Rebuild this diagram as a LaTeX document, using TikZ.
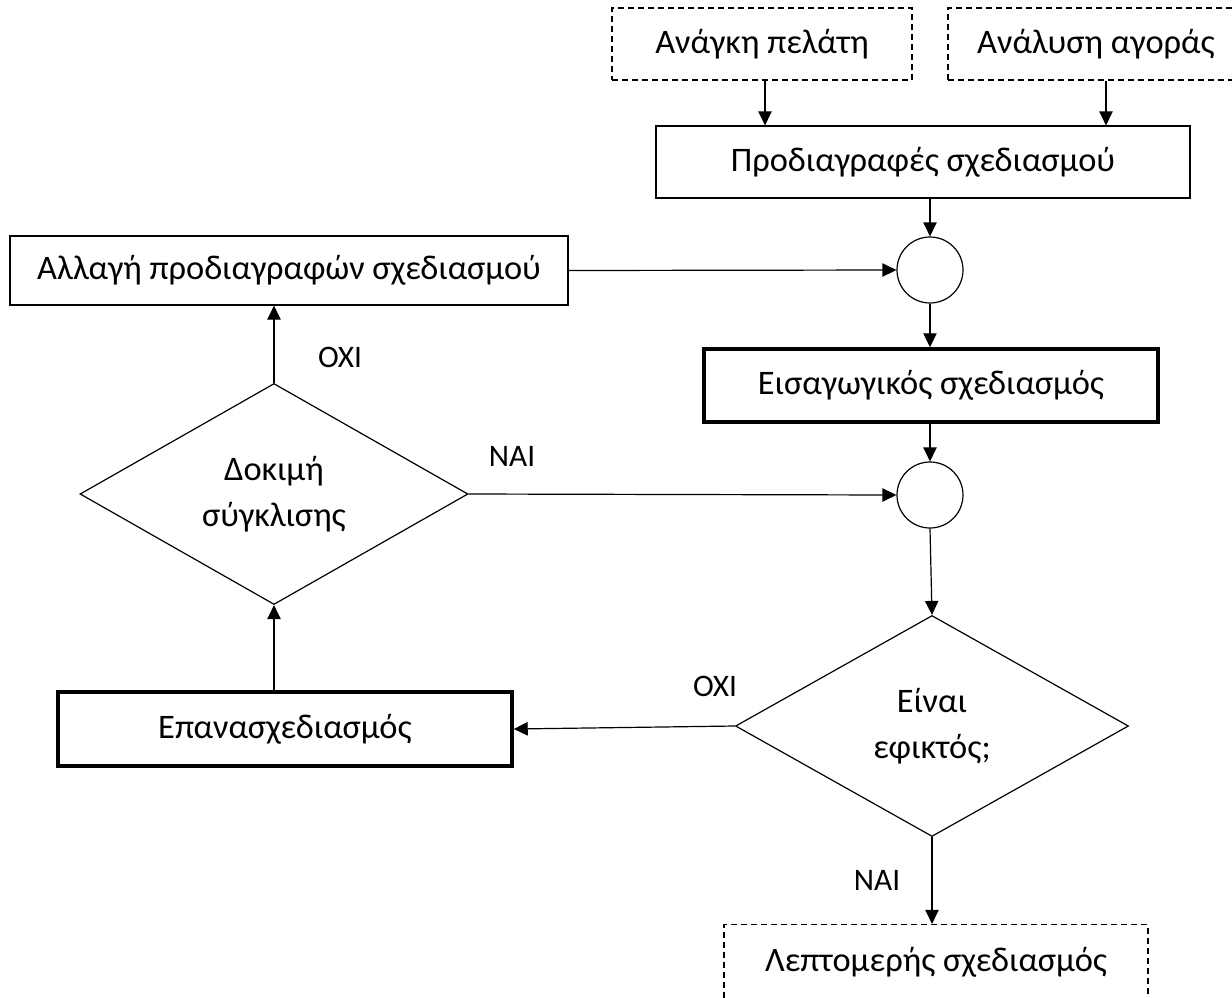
\documentclass[tikz,border=0pt]{standalone}
\usepackage{fontspec}
\setmainfont{Carlito}
\usetikzlibrary{shapes.geometric,arrows.meta}
\begin{document}
\begin{tikzpicture}[x=0.75pt,y=-0.75pt,
  font=\fontsize{25.8}{35}\selectfont,
  box/.style={draw, rectangle, line width=0.9pt, inner sep=0pt},
  inbox/.style={box, dashed, dash pattern=on 4.5pt off 3pt},
  keybox/.style={box, line width=2.6pt},
  junction/.style={draw, circle, line width=0.9pt, minimum size=49.5pt, inner sep=0pt},
  decision/.style={draw, diamond, line width=0.9pt, inner sep=0pt, align=center},
  flow/.style={line width=0.9pt, -{Triangle[length=10.5pt,width=10pt]}},
  answer/.style={inner sep=0pt, font=\fontsize{23.5}{28}\selectfont}]
\useasboundingbox (0,0) rectangle (1232,997);
\clip (0,0) rectangle (1232,997);
\fill[white] (0,0) rectangle (1232,997);

% inputs
\node[inbox, minimum width=225pt, minimum height=54pt] (need) at (762,44) {Ανάγκη πελάτη};
\node[inbox, minimum width=222pt, minimum height=54pt] (market) at (1096,44) {Ανάλυση αγοράς};
\node[box, minimum width=400.5pt, minimum height=54pt] (spec) at (923,162) {Προδιαγραφές σχεδιασμού};

% first junction and the specification change loop
\node[junction] (j1) at (930,270) {};
\node[box, minimum width=418.5pt, minimum height=51.75pt] (change) at (289,270.5) {Αλλαγή προδιαγραφών σχεδιασμού};
\node[keybox, minimum width=340.5pt, minimum height=54.75pt] (prelim) at (931,385.5) {Εισαγωγικός σχεδιασμός};
\node[junction] (j2) at (930,495) {};

% decisions
\node[decision, minimum width=291pt, minimum height=165.75pt] (conv) at (274,494) {Δοκιμή\\σύγκλισης};
\node[decision, minimum width=294.75pt, minimum height=165.75pt] (feas) at (932,726) {Είναι\\εφικτός;};

\node[keybox, minimum width=340.5pt, minimum height=55.5pt] (redesign) at (285,729) {Επανασχεδιασμός};
\node[inbox, minimum width=318pt, minimum height=56.25pt] (detail) at (936,962) {Λεπτομερής σχεδιασμός};

% connectors
\draw[flow] (need.south -| 765,0) -- (765,0 |- spec.north);
\draw[flow] (market.south -| 1106,0) -- (1106,0 |- spec.north);
\draw[flow] (spec.south -| j1) -- (j1.north);
\draw[flow] (change.east) -- (j1.west);
\draw[flow] (j1.south) -- (j1.south |- prelim.north);
\draw[flow] (prelim.south -| j2) -- (j2.north);
\draw[flow] (conv.east) -- (j2.west);
\draw[flow] (conv.north) -- (conv.north |- change.south);
\draw[flow] (redesign.north -| conv.south) -- (conv.south);
\draw[flow] (j2.south) -- (feas.north);
\draw[flow] (feas.west) -- (redesign.east);
\draw[flow] (feas.south) -- (feas.south |- detail.north);

% answers
\node[answer] (no1) at (340,357) {ΟΧΙ};
\node[answer] (yes1) at (512,456) {ΝΑΙ};
\node[answer] (no2) at (715,686) {ΟΧΙ};
\node[answer] (yes2) at (877,880) {ΝΑΙ};
\end{tikzpicture}
\end{document}
